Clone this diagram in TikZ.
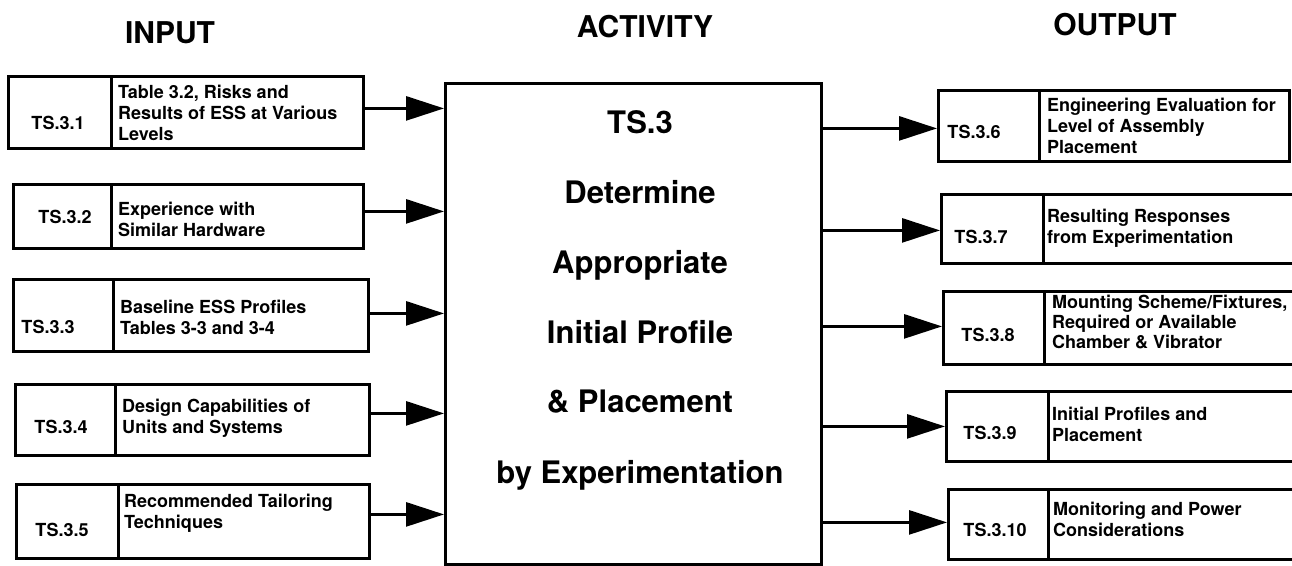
\documentclass[tikz,border=0pt]{standalone}
\usepackage{fontspec}
\setmainfont{TeX Gyre Heros}
\usetikzlibrary{arrows.meta,calc}
\tikzset{
 box/.style={draw, line width=2.8pt, rectangle, inner sep=0pt, anchor=north west},
 idtxt/.style={font=\fontsize{18}{21}\selectfont\bfseries, inner sep=0pt},
 desc/.style={font=\fontsize{18}{21}\selectfont\bfseries, align=left, anchor=west, inner sep=0pt},
 head/.style={font=\fontsize{30}{36}\selectfont\bfseries, anchor=base, inner sep=0pt},
 big/.style={font=\fontsize{31}{36}\selectfont\bfseries, anchor=base, inner sep=0pt},
 arr/.style={line width=2.8pt, -{Triangle[length=38pt,width=24pt]}}
}
\begin{document}
\begin{tikzpicture}[x=1pt,y=-1pt]
\useasboundingbox (0,0) rectangle (1292,565);
\clip (0,0) rectangle (1292,565);

% headers
\node[head] (hin) at (170,43) {INPUT};
\node[head] (hact) at (645,37) {ACTIVITY};
\node[head] (hout) at (1115,35) {OUTPUT};

% central activity box
\node[box, minimum width=376pt, minimum height=481pt] (act) at (444,82) {};
\node[big] (m1) at (640,133) {TS.3};
\node[big] (m2) at (640,203) {Determine};
\node[big] (m3) at (640,273) {Appropriate};
\node[big] (m4) at (640,343) {Initial Profile};
\node[big] (m5) at (640,412) {\& Placement};
\node[big] (m6) at (640,483) {by Experimentation};

% input boxes
\node[box, minimum width=103pt, minimum height=72pt] (a1) at (7,75) {};
\node[box, minimum width=252pt, minimum height=72pt] (b1) at (110,75) {};
\node[box, minimum width=98pt, minimum height=64pt] (a2) at (12,183) {};
\node[box, minimum width=252pt, minimum height=64pt] (b2) at (110,183) {};
\node[box, minimum width=100pt, minimum height=72pt] (a3) at (12,278) {};
\node[box, minimum width=255pt, minimum height=72pt] (b3) at (112,278) {};
\node[box, minimum width=100pt, minimum height=71pt] (a4) at (14,383) {};
\node[box, minimum width=254pt, minimum height=71pt] (b4) at (114,383) {};
\node[box, minimum width=102pt, minimum height=74pt] (a5) at (15,483) {};
\node[box, minimum width=251pt, minimum height=74pt] (b5) at (117,483) {};

\node[idtxt] (t1) at (58,123) {TS.3.1};
\node[idtxt] (t2) at (65,217) {TS.3.2};
\node[idtxt] (t3) at (48,327) {TS.3.3};
\node[idtxt] (t4) at (61,427) {TS.3.4};
\node[idtxt] (t5) at (62,530) {TS.3.5};

\node[desc] (d1) at (118,113) {Table 3.2, Risks and\\Results of ESS at Various\\Levels};
\node[desc] (d2) at (118,219) {Experience with\\Similar Hardware};
\node[desc] (d3) at (120,317) {Baseline ESS Profiles\\Tables 3-3 and 3-4};
\node[desc] (d4) at (122,418) {Design Capabilities of\\Units and Systems};
\node[desc] (d5) at (124,513) {Recommended Tailoring\\Techniques};

% output boxes
\node[box, minimum width=101pt, minimum height=71pt] (a6) at (937,89) {};
\node[box, minimum width=250pt, minimum height=71pt] (b6) at (1038,89) {};
\node[box, minimum width=102pt, minimum height=69pt] (a7) at (940,193) {};
\node[box, minimum width=258pt, minimum height=69pt] (b7) at (1042,193) {};
\node[box, minimum width=101pt, minimum height=73pt] (a8) at (942,290) {};
\node[box, minimum width=257pt, minimum height=73pt] (b8) at (1043,290) {};
\node[box, minimum width=102pt, minimum height=70pt] (a9) at (945,390) {};
\node[box, minimum width=253pt, minimum height=70pt] (b9) at (1047,390) {};
\node[box, minimum width=100pt, minimum height=70pt] (a10) at (947,488) {};
\node[box, minimum width=253pt, minimum height=70pt] (b10) at (1047,488) {};

\node[idtxt] (t6) at (974,132) {TS.3.6};
\node[idtxt] (t7) at (981,237) {TS.3.7};
\node[idtxt] (t8) at (988,335) {TS.3.8};
\node[idtxt] (t9) at (990,433) {TS.3.9};
\node[idtxt] (t10) at (995,530) {TS.3.10};

\node[desc] (d6) at (1047,126) {Engineering Evaluation for\\Level of Assembly\\Placement};
\node[desc] (d7) at (1047,228) {Resulting Responses\\from Experimentation};
\node[desc, font=\fontsize{18}{20}\selectfont\bfseries] (d8) at (1052,322) {Mounting Scheme/Fixtures,\\Required or Available\\Chamber \& Vibrator};
\node[desc] (d9) at (1052,424) {Initial Profiles and\\Placement};
\node[desc] (d10) at (1053,519) {Monitoring and Power\\Considerations};

% input arrows
\coordinate (s1) at ($(b1.east)+(0,-4)$);
\coordinate (s2) at ($(b2.east)+(0,-5)$);
\coordinate (s3) at ($(b3.east)+(0,-2)$);
\coordinate (s4) at ($(b4.east)+(0,-6.5)$);
\coordinate (s5) at ($(b5.east)+(0,-7)$);
\foreach \i in {1,...,5} {\draw[arr] (s\i) -- (s\i -| act.west);}

% output arrows
\coordinate (r6) at ($(a6.west)+(0,2.5)$);
\coordinate (r7) at ($(a7.west)+(0,1.5)$);
\coordinate (r8) at ($(a8.west)+(0,-1.5)$);
\coordinate (r9) at ($(a9.west)+(0,0)$);
\coordinate (r10) at ($(a10.west)+(0,-2)$);
\foreach \i in {6,...,10} {\draw[arr] (r\i -| act.east) -- (r\i);}
\end{tikzpicture}
\end{document}
